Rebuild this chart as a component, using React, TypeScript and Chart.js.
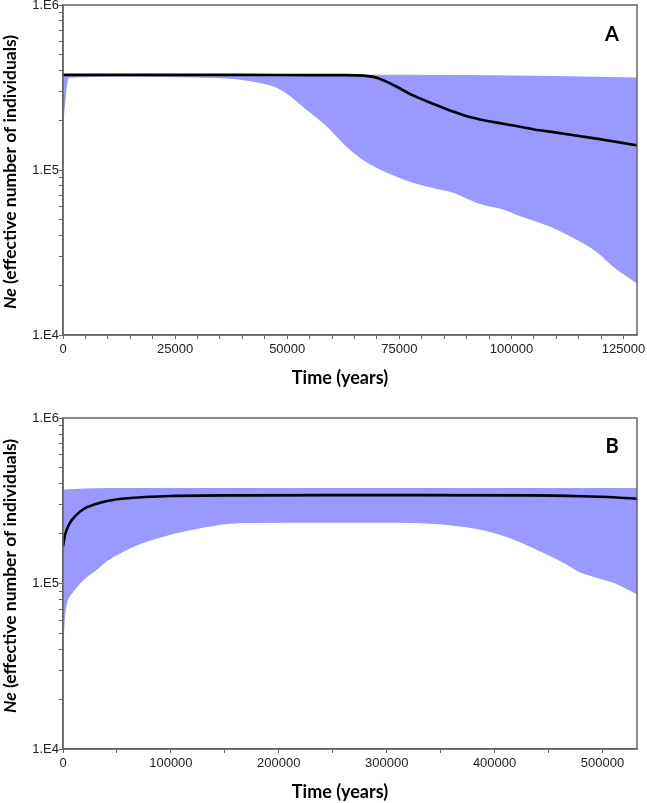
import React, { useEffect, useRef } from 'react';
import { Chart, registerables } from 'chart.js';
Chart.register(...registerables);

// ---------- Panel A data ----------
const timeMedianA = [0, 20000, 40000, 55000, 63000, 67000, 70300, 74000, 77700, 82200, 86800, 91400, 96000, 100500, 105100, 109700, 114300, 118900, 123400, 128000];
const neMedianA = [377000, 377000, 377000, 376000, 376000, 373000, 360000, 324000, 286000, 254000, 227000, 207000, 195000, 186000, 176000, 169000, 162000, 155000, 148000, 141000];
const timeUpperA = [0, 30000, 60000, 90000, 110000, 128000];
const neUpperA = [378000, 378000, 378000, 376000, 371000, 364000];
const timeLowerA = [0, 1300, 13500, 27300, 36500, 41000, 44700, 47500, 50200, 53850, 58400, 63900, 68500, 74000, 76700, 82200, 86800, 89600, 93200, 97800, 101500, 105100, 109700, 114300, 118900, 123400, 128000];
const neLowerA = [182000, 362000, 368000, 365000, 358000, 348000, 333000, 316000, 286000, 237000, 188000, 133000, 108000, 92000, 86000, 78000, 73000, 68000, 62000, 58000, 53000, 49000, 44000, 38000, 32000, 25000, 20500];
const xMaxA = 128000;
const xStepA = 5000;
const xLabelsA = [0, 25000, 50000, 75000, 100000, 125000];

// ---------- Panel B data ----------
const timeMedianB = [0, 1900, 5700, 11500, 19100, 30500, 42000, 57000, 76000, 100000, 170000, 250000, 330000, 433000, 480000, 510000, 532000];
const neMedianB = [168000, 197000, 228000, 256000, 282000, 302000, 316000, 326000, 333000, 338000, 341000, 342000, 342000, 341000, 337000, 332000, 325000];
const timeUpperB = [0, 10000, 30000, 60000, 200000, 400000, 532000];
const neUpperB = [368000, 372000, 376000, 378000, 378000, 378000, 378000];
const timeLowerB = [0, 1900, 3800, 6500, 9500, 15800, 19100, 25000, 30500, 40500, 48000, 53000, 69000, 85000, 103000, 126000, 153000, 172000, 250000, 294000, 324000, 356000, 387000, 418000, 449000, 467000, 480000, 495000, 510000, 532000];
const neLowerB = [38000, 63000, 76000, 84000, 89000, 100000, 105000, 113000, 120000, 136000, 146000, 152000, 170000, 185000, 200000, 215000, 229000, 232000, 233000, 233000, 232000, 226000, 211000, 184000, 149000, 130000, 116000, 108000, 101000, 86000];
const xMaxB = 532000;
const xStepB = 50000;
const xLabelsB = [0, 100000, 200000, 300000, 400000, 500000];

// ---------- shared axis / text ----------
const yMajor = [1e4, 1e5, 1e6];
const yMajorLabels = ['1.E4', '1.E5', '1.E6'];
const yMinorMultipliers = [2, 3, 4, 5, 6, 7, 8, 9];
const xTitle = 'Time (years)';
const yTitleItalic = 'Ne';
const yTitleRest = ' (effective number of individuals)';

const FILL = 'rgb(153,153,255)';
const FRAME = '#666';
const W = 647;

function pts(xs: number[], ys: number[]) {
  return xs.map((x, i) => ({ x, y: ys[i] }));
}

type PanelProps = {
  top: number;
  height: number;
  plotTop: number;
  plotBottom: number;
  xMax: number;
  xStep: number;
  xLabels: number[];
  median: { x: number; y: number }[];
  upper: { x: number; y: number }[];
  lower: { x: number; y: number }[];
  letter: string;
  letterY: number;
  xTitleY: number;
  yTitleY: number;
};

function Panel(p: PanelProps) {
  const ref = useRef<HTMLCanvasElement>(null);
  useEffect(() => {
    if (!ref.current) return;
    const plotLeft = 63;
    const plotRight = 637;
    const yTicks: number[] = [];
    for (let i = 0; i < yMajor.length; i++) {
      yTicks.push(yMajor[i]);
      if (i < yMajor.length - 1) yMinorMultipliers.forEach((m) => yTicks.push(yMajor[i] * m));
    }
    const xTicks: number[] = [];
    for (let v = 0; v <= p.xMax; v += p.xStep) xTicks.push(v);
    const xLabelFor = (v: number) => {
      const l = p.xLabels.find((t) => Math.abs(t - v) < 0.5);
      return l === undefined ? '' : String(l);
    };
    const overlay = {
      id: 'overlay',
      afterDraw(chart: any) {
        const ctx = chart.ctx;
        const a = chart.chartArea;
        ctx.save();
        ctx.strokeStyle = FRAME;
        ctx.lineWidth = 1.5;
        ctx.strokeRect(a.left, a.top, a.right - a.left, a.bottom - a.top);
        ctx.fillStyle = '#000';
        ctx.font = 'bold 20px Lato';
        ctx.textAlign = 'center';
        ctx.textBaseline = 'middle';
        ctx.fillText(p.letter, 612, p.letterY);
        ctx.font = 'bold 18px Lato';
        ctx.fillText(xTitle, 340, p.xTitleY);
        ctx.translate(10, p.yTitleY);
        ctx.rotate(-Math.PI / 2);
        const f1 = 'italic bold 17.5px Lato';
        const f2 = 'bold 17.5px Lato';
        ctx.font = f1;
        const w1 = ctx.measureText(yTitleItalic).width;
        ctx.font = f2;
        const w2 = ctx.measureText(yTitleRest).width;
        const x0 = -(w1 + w2) / 2;
        ctx.textAlign = 'left';
        ctx.font = f1;
        ctx.fillText(yTitleItalic, x0, 0);
        ctx.font = f2;
        ctx.fillText(yTitleRest, x0 + w1, 0);
        ctx.restore();
      },
    };
    const chart = new Chart(ref.current, {
      type: 'line',
      data: {
        datasets: [
          { data: p.median, borderColor: '#000', borderWidth: 2.6, pointRadius: 0, fill: false, cubicInterpolationMode: 'monotone' },
          { data: p.upper, borderColor: 'rgba(0,0,0,0)', borderWidth: 0, backgroundColor: FILL, pointRadius: 0, fill: '+1', cubicInterpolationMode: 'monotone' },
          { data: p.lower, borderColor: 'rgba(0,0,0,0)', borderWidth: 0, pointRadius: 0, fill: false, cubicInterpolationMode: 'monotone' },
        ],
      } as any,
      options: {
        animation: false,
        responsive: false,
        maintainAspectRatio: false,
        layout: { padding: { top: p.plotTop, right: W - plotRight, left: 0, bottom: 0 } },
        plugins: { legend: { display: false }, tooltip: { enabled: false }, filler: { propagate: false } },
        scales: {
          x: {
            type: 'linear',
            min: 0,
            max: p.xMax,
            afterBuildTicks: (s: any) => {
              s.ticks = xTicks.map((v) => ({ value: v }));
            },
            ticks: {
              autoSkip: false,
              maxRotation: 0,
              minRotation: 0,
              padding: 3,
              color: '#222',
              font: { family: 'Liberation Sans', size: 13 },
              callback: (v: any) => xLabelFor(Number(v)),
            },
            grid: { display: true, drawOnChartArea: false, drawTicks: true, tickLength: 4, color: FRAME, lineWidth: 1 },
            border: { display: true, color: FRAME, width: 1.5 },
            afterFit: (s: any) => {
              s.height = p.height - p.plotBottom;
              s.paddingLeft = 0;
              s.paddingRight = 0;
            },
          },
          y: {
            type: 'logarithmic',
            min: 1e4,
            max: 1e6,
            afterBuildTicks: (s: any) => {
              s.ticks = yTicks.map((v) => ({ value: v }));
            },
            ticks: {
              autoSkip: false,
              padding: 0,
              color: '#222',
              font: { family: 'Liberation Sans', size: 13 },
              callback: (v: any) => {
                const i = yMajor.indexOf(Number(v));
                return i >= 0 ? yMajorLabels[i] : '';
              },
            },
            grid: { display: true, drawOnChartArea: false, drawTicks: true, tickLength: 4, color: FRAME, lineWidth: 1 },
            border: { display: true, color: FRAME, width: 1.5 },
            afterFit: (s: any) => {
              s.width = plotLeft;
              s.paddingTop = 0;
              s.paddingBottom = 0;
            },
          },
        },
      } as any,
      plugins: [overlay],
    });
    return () => chart.destroy();
  }, []);
  return (
    <canvas
      ref={ref}
      width={W}
      height={p.height}
      style={{ position: 'absolute', left: 0, top: p.top, width: W, height: p.height, display: 'block' }}
    />
  );
}

export default function App() {
  return (
    <div style={{ position: 'absolute', left: 0, top: 0, width: W, height: 803, background: '#fff' }}>
      <Panel
        top={0}
        height={400}
        plotTop={5}
        plotBottom={335}
        xMax={xMaxA}
        xStep={xStepA}
        xLabels={xLabelsA}
        median={pts(timeMedianA, neMedianA)}
        upper={pts(timeUpperA, neUpperA)}
        lower={pts(timeLowerA, neLowerA)}
        letter="A"
        letterY={35}
        xTitleY={378}
        yTitleY={172}
      />
      <Panel
        top={400}
        height={403}
        plotTop={18}
        plotBottom={349}
        xMax={xMaxB}
        xStep={xStepB}
        xLabels={xLabelsB}
        median={pts(timeMedianB, neMedianB)}
        upper={pts(timeUpperB, neUpperB)}
        lower={pts(timeLowerB, neLowerB)}
        letter="B"
        letterY={47}
        xTitleY={392}
        yTitleY={176}
      />
    </div>
  );
}
